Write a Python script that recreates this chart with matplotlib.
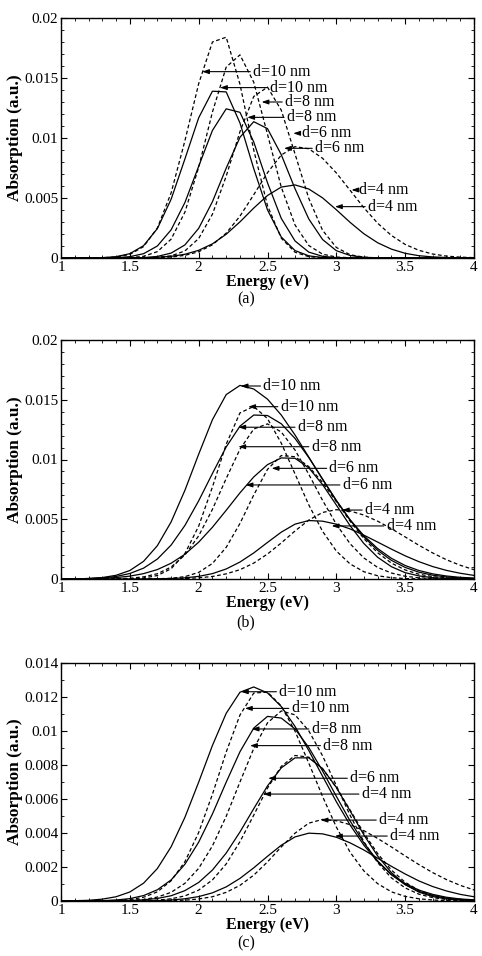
import numpy as np
import matplotlib
matplotlib.use('Agg')
import matplotlib.pyplot as plt
from matplotlib.ticker import MultipleLocator, FormatStrFormatter

plt.rcParams['font.family'] = ['Liberation Serif', 'DejaVu Serif']

# -----------------------------------------------------------------------------------------
# photon energy (eV), 1.0 ... 4.0 in steps of 0.1
energy = [1.0, 1.1, 1.2, 1.3, 1.4, 1.5, 1.6, 1.7, 1.8, 1.9,
          2.0, 2.1, 2.2, 2.3, 2.4, 2.5, 2.6, 2.7, 2.8, 2.9,
          3.0, 3.1, 3.2, 3.3, 3.4, 3.5, 3.6, 3.7, 3.8, 3.9, 4.0]

# absorption in units of 1e-5 a.u.
scale = 1e-5

# (a)
a_solid = [
    [0, 0, 1, 3, 11, 36, 103, 245, 490, 825, 1168, 1390, 1384, 1125, 745, 401, 175, 62, 18, 4, 1, 0, 0, 0, 0, 0, 0, 0, 0, 0, 0],
    [0, 0, 0, 1, 3, 11, 36, 100, 235, 462, 764, 1063, 1243, 1214, 967, 627, 330, 142, 49, 14, 3, 1, 0, 0, 0, 0, 0, 0, 0, 0, 0],
    [0, 0, 0, 0, 0, 1, 3, 13, 41, 109, 247, 469, 749, 1006, 1136, 1078, 861, 577, 325, 154, 61, 21, 6, 1, 0, 0, 0, 0, 0, 0, 0],
    [0, 0, 0, 0, 0, 1, 2, 6, 14, 31, 64, 118, 198, 301, 416, 521, 591, 609, 575, 501, 402, 297, 202, 127, 74, 39, 19, 9, 4, 1, 0],
]
a_dashed = [
    [0, 0, 0, 2, 8, 30, 95, 250, 543, 977, 1452, 1800, 1840, 1448, 900, 436, 165, 48, 11, 2, 0, 0, 0, 0, 0, 0, 0, 0, 0, 0, 0],
    [0, 0, 0, 0, 1, 3, 14, 53, 157, 382, 756, 1216, 1591, 1693, 1465, 1031, 590, 275, 104, 32, 8, 2, 0, 0, 0, 0, 0, 0, 0, 0, 0],
    [0, 0, 0, 0, 0, 0, 1, 5, 18, 59, 162, 365, 682, 1053, 1346, 1424, 1232, 867, 496, 231, 88, 27, 7, 1, 0, 0, 0, 0, 0, 0, 0],
    [0, 0, 0, 0, 0, 0, 1, 3, 8, 22, 52, 110, 207, 349, 527, 711, 858, 928, 910, 831, 709, 564, 419, 290, 188, 113, 64, 33, 16, 7, 3],
]

# (b)
b_solid = [
    [0, 1, 4, 12, 31, 71, 148, 279, 478, 742, 1044, 1333, 1543, 1620, 1590, 1505, 1372, 1205, 1020, 833, 655, 496, 362, 255, 173, 113, 71, 43, 25, 14, 8],
    [0, 1, 4, 9, 21, 46, 91, 167, 284, 448, 654, 883, 1105, 1279, 1372, 1368, 1299, 1176, 1016, 837, 658, 493, 352, 240, 156, 97, 57, 32, 17, 9, 4],
    [0, 1, 3, 6, 12, 24, 45, 79, 132, 207, 308, 433, 575, 721, 854, 957, 1013, 1010, 930, 790, 619, 446, 297, 182, 103, 53, 26, 11, 5, 2, 1],
    [0, 0, 0, 0, 0, 0, 1, 2, 4, 10, 22, 45, 84, 142, 218, 306, 392, 459, 489, 484, 459, 419, 367, 309, 250, 194, 145, 104, 72, 48, 30],
]
b_dashed = [
    [0, 0, 0, 0, 0, 2, 8, 29, 86, 213, 442, 770, 1128, 1390, 1444, 1342, 1137, 879, 620, 399, 234, 126, 61, 27, 11, 4, 1, 0, 0, 0, 0],
    [0, 0, 0, 1, 2, 6, 18, 44, 100, 201, 361, 583, 841, 1086, 1255, 1298, 1230, 1079, 876, 658, 458, 295, 176, 97, 50, 23, 10, 4, 2, 1, 0],
    [0, 0, 0, 0, 0, 0, 0, 2, 6, 20, 55, 130, 265, 465, 703, 918, 1033, 1023, 941, 808, 647, 484, 338, 220, 133, 76, 40, 20, 9, 4, 2],
    [0, 0, 0, 0, 0, 0, 0, 1, 2, 4, 10, 21, 43, 78, 133, 209, 302, 402, 493, 557, 580, 569, 535, 484, 421, 352, 282, 218, 161, 115, 78],
]

# (c)
c_solid = [
    [1, 2, 4, 11, 25, 53, 105, 191, 319, 492, 699, 915, 1104, 1228, 1259, 1224, 1144, 1027, 885, 734, 584, 447, 328, 232, 157, 103, 64, 39, 22, 12, 7],
    [0, 0, 1, 2, 6, 14, 32, 66, 124, 216, 346, 512, 699, 878, 1017, 1086, 1076, 1012, 903, 765, 616, 471, 342, 236, 154, 96, 57, 32, 17, 9, 4],
    [0, 0, 0, 0, 1, 3, 7, 15, 31, 61, 109, 182, 282, 406, 543, 677, 783, 842, 842, 779, 668, 530, 389, 265, 167, 97, 52, 26, 12, 5, 2],
    [0, 0, 0, 0, 0, 0, 1, 2, 6, 13, 26, 48, 83, 133, 195, 263, 328, 377, 399, 395, 375, 342, 300, 252, 204, 159, 118, 85, 59, 39, 25],
]
c_dashed = [
    [0, 0, 0, 1, 3, 8, 22, 54, 119, 231, 403, 628, 876, 1094, 1223, 1229, 1147, 999, 811, 615, 435, 287, 177, 102, 54, 27, 13, 6, 2, 1, 0],
    [0, 0, 0, 0, 1, 4, 9, 23, 51, 104, 192, 324, 498, 700, 897, 1048, 1118, 1095, 1001, 854, 679, 504, 349, 226, 136, 77, 40, 20, 9, 4, 2],
    [0, 0, 0, 0, 0, 1, 2, 5, 13, 30, 64, 124, 218, 349, 505, 664, 792, 856, 846, 778, 668, 535, 400, 279, 182, 110, 63, 33, 16, 8, 3],
    [0, 0, 0, 0, 0, 0, 0, 1, 2, 5, 12, 25, 51, 92, 152, 230, 318, 399, 458, 480, 472, 449, 414, 368, 318, 265, 214, 167, 126, 92, 65],
]

# labels of the arrows, in each panel from top to bottom
a_labels = ['d=10 nm', 'd=10 nm', 'd=8 nm', 'd=8 nm', 'd=6 nm', 'd=6 nm', 'd=4 nm', 'd=4 nm']
b_labels = ['d=10 nm', 'd=10 nm', 'd=8 nm', 'd=8 nm', 'd=6 nm', 'd=6 nm', 'd=4 nm', 'd=4 nm']
c_labels = ['d=10 nm', 'd=10 nm', 'd=8 nm', 'd=8 nm', 'd=6 nm', 'd=4 nm', 'd=4 nm', 'd=4 nm']

# -----------------------------------------------------------------------------------------
# arrow placement: (tip x, text x, y) in data units

a_arrows = [(2.025, 2.395, 0.01553), (2.155, 2.52, 0.0142), (2.457, 2.627, 0.0130), (2.353, 2.64, 0.01172),
            (2.687, 2.748, 0.01039), (2.62, 2.845, 0.00914), (3.11, 3.166, 0.00567), (2.99, 3.23, 0.00428)]
b_arrows = [(2.305, 2.47, 0.01615), (2.36, 2.595, 0.01442), (2.288, 2.72, 0.0127), (2.288, 2.82, 0.01107),
            (2.53, 2.95, 0.00926), (2.341, 3.046, 0.00787), (3.04, 3.208, 0.00577), (2.966, 3.365, 0.00444)]
c_arrows = [(2.307, 2.585, 0.01231), (2.336, 2.675, 0.01133), (2.385, 2.82, 0.01012), (2.373, 2.905, 0.00914),
            (2.505, 3.10, 0.00722), (2.469, 3.184, 0.00629), (2.886, 3.31, 0.00476), (2.99, 3.39, 0.00382)]

panels = [
    ('a', a_solid, a_dashed, a_labels, a_arrows, 0.02, 0.005, (18, 258), 299),
    ('b', b_solid, b_dashed, b_labels, b_arrows, 0.02, 0.005, (340, 579), 622),
    ('c', c_solid, c_dashed, c_labels, c_arrows, 0.014, 0.002, (663, 901), 943),
]

W, H = 482., 956.
fig = plt.figure(figsize=(W / 100, H / 100), dpi=100)

for name, solid, dashed, labels, arrows, ymax, ystep, (top, bot), cap in panels:
    ax = fig.add_axes([61 / W, 1 - bot / H, 413 / W, (bot - top) / H])

    for y in solid:
        ax.plot(energy, np.array(y) * scale, 'k-', lw=0.9)
    for y in dashed:
        ax.plot(energy, np.array(y) * scale, 'k--', lw=0.9, dashes=(3, 2))

    for lab, (xtip, xtext, yy) in zip(labels, arrows):
        ax.annotate(lab, xy=(xtip, yy), xytext=(xtext, yy), fontsize=11.5, ha='left', va='center',
                    arrowprops=dict(arrowstyle='-|>,head_length=0.35,head_width=0.12', color='k',
                                    lw=0.8, shrinkA=0, shrinkB=0))

    ax.set_xlim(1, 4)
    ax.set_ylim(0, ymax)
    ax.xaxis.set_major_locator(MultipleLocator(0.5))
    ax.xaxis.set_minor_locator(MultipleLocator(0.1))
    ax.yaxis.set_major_locator(MultipleLocator(ystep))
    ax.yaxis.set_minor_locator(MultipleLocator(0.001))
    ax.xaxis.set_major_formatter(FormatStrFormatter('%g'))
    ax.yaxis.set_major_formatter(FormatStrFormatter('%g'))
    ax.tick_params(which='both', direction='in', top=True, right=True, labelsize=11, pad=2)
    ax.tick_params(which='major', length=4)
    ax.tick_params(which='minor', length=2)
    for sp in ax.spines.values():
        sp.set_linewidth(1.0)

    ax.set_xlabel('Energy (eV)', fontweight='bold', fontsize=11.5, labelpad=0)
    ax.set_ylabel('Absorption (a.u.)', fontweight='bold', fontsize=12.5, labelpad=1)
    fig.text(0.5 + 5 / W, 1 - cap / H, '(%s)' % name, ha='center', va='center', fontsize=11.5)

fig.savefig('out.png')
